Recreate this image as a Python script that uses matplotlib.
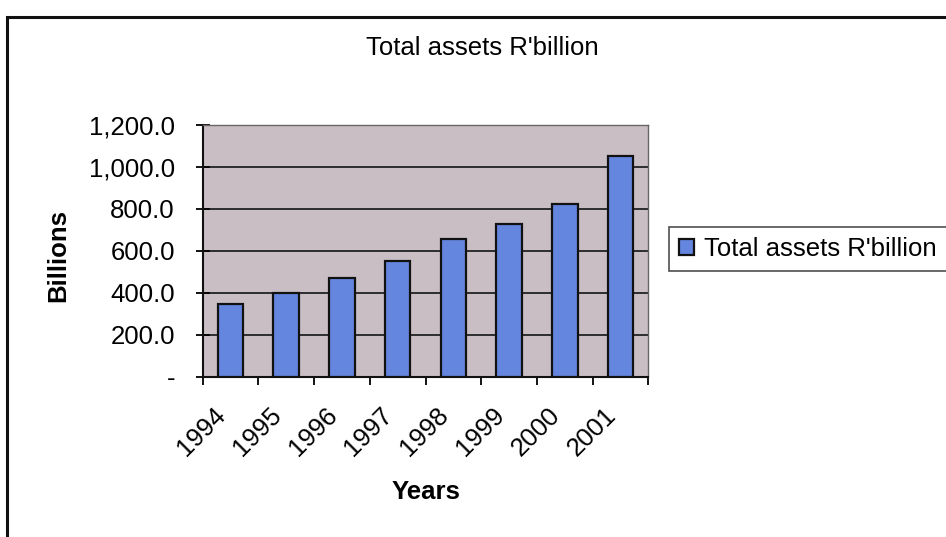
import matplotlib
matplotlib.use('Agg')
import matplotlib.pyplot as plt
import matplotlib.ticker as mticker
from matplotlib.patches import Rectangle

years = ['1994', '1995', '1996', '1997', '1998', '1999', '2000', '2001']
total_assets = [345, 398, 472, 552, 658, 728, 824, 1054]
series_name = "Total assets R'billion"
y_ticks = [0, 200, 400, 600, 800, 1000, 1200]

plt.rcParams['font.family'] = ['Liberation Sans', 'DejaVu Sans']
fs = 18.5

fig = plt.figure(figsize=(9.46, 5.37), dpi=100)
fig.patch.set_facecolor('white')

# outer chart frame (right/bottom edges fall off the scan)
fig.patches.append(Rectangle((7 / 946, -0.1), 1.2, 1 - 17 / 537 + 0.1,
                             transform=fig.transFigure, fill=False,
                             edgecolor='#111111', linewidth=2.2))

ax = fig.add_axes([0.2143, 0.2985, 0.471, 0.4687])
ax.set_facecolor('#cabec5')

x = list(range(len(years)))
ax.bar([i + 0.5 for i in x], total_assets, width=0.46, color='#6586df',
       edgecolor='#111111', linewidth=1.6, label=series_name, zorder=3)

ax.set_xlim(0, len(years))
ax.set_ylim(0, 1200)
ax.set_yticks(y_ticks)
ax.yaxis.set_major_formatter(mticker.FuncFormatter(
    lambda v, p: '-' if v == 0 else f'{v:,.1f}'))
ax.grid(axis='y', color='#222222', linewidth=1.3, zorder=1)

ax.set_xticks(range(len(years) + 1))
ax.set_xticklabels([])
ax.set_xticks([i + 0.5 for i in x], minor=True)
ax.set_xticklabels(years, minor=True, rotation=45, ha='right', va='bottom',
                   rotation_mode='anchor', fontsize=fs)
ax.tick_params(axis='x', which='major', direction='out', length=6, width=1.3)
ax.tick_params(axis='x', which='minor', length=0, pad=31)
ax.tick_params(axis='y', direction='inout', length=10, width=1.3, labelsize=fs, pad=15)

for side in ['top', 'right']:
    ax.spines[side].set_color('#666666')
    ax.spines[side].set_linewidth(1.0)
for side in ['left', 'bottom']:
    ax.spines[side].set_color('#111111')
    ax.spines[side].set_linewidth(1.5)

ax.set_ylabel('Billions', fontsize=fs, fontweight='bold')
ax.yaxis.set_label_coords(-0.325, 0.48)
ax.set_xlabel('Years', fontsize=fs, fontweight='bold')
ax.xaxis.set_label_coords(0.5, -0.458)
ax.xaxis.label.set_va('center')
ax.yaxis.label.set_va('center')
fig.text(0.51, 1 - 48 / 537, series_name, ha='center', va='center', fontsize=fs)

leg = fig.legend(loc='center left', bbox_to_anchor=(669 / 946, 1 - 249 / 537),
                 fontsize=fs, frameon=True, fancybox=False, handlelength=0.6,
                 handleheight=0.6, handletextpad=0.4, borderpad=0.38,
                 borderaxespad=0)
leg.get_frame().set_edgecolor('#222222')
leg.get_frame().set_linewidth(1.2)

fig.savefig('out.png', dpi=100)
